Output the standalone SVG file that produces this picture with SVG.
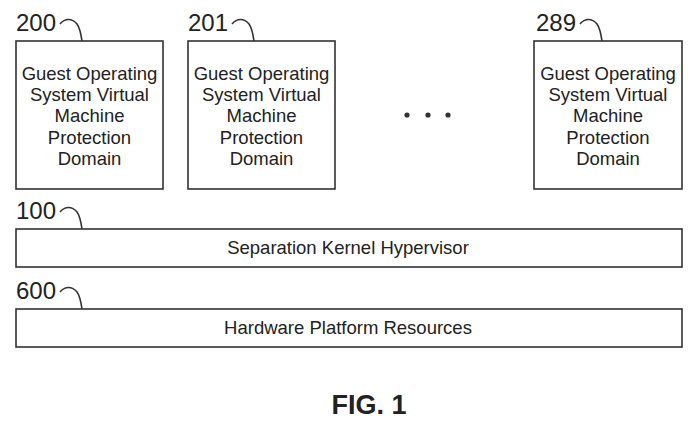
<svg xmlns="http://www.w3.org/2000/svg" width="691" height="423" viewBox="0 0 691 423">
<style>
.box{fill:#fff;stroke:#333;stroke-width:1.6}
.t{font-family:"Liberation Sans",Arial,sans-serif;font-size:18.5px;fill:#222;text-anchor:middle}
.lbl{font-family:"Liberation Sans",Arial,sans-serif;font-size:24px;fill:#222}
.lead{fill:none;stroke:#333;stroke-width:1.6}
.fig{font-family:"Liberation Sans",Arial,sans-serif;font-size:27px;font-weight:bold;fill:#222;text-anchor:middle}
</style>
<rect width="691" height="423" fill="#fff"/>
<g id="connectors">
<path class="lead" d="M60 24 C65 18 72 18 77 24 C80 28 81 34 82 41"/>
<path class="lead" d="M232 24 C237 18 244 18 249 24 C252 28 253 34 254 41"/>
<path class="lead" d="M580 24 C585 18 592 18 597 24 C600 28 601 34 602 41"/>
<path class="lead" d="M60 212 C65 206 72 206 77 212 C80 216 81 222 82 229"/>
<path class="lead" d="M60 292 C65 286 72 286 77 292 C80 296 81 302 82 309"/>
</g>
<g id="n200">
<text class="lbl" x="16" y="31">200</text>
<rect class="box" x="16" y="41" width="147" height="148"/>
<text class="t" x="89.5" y="80">Guest Operating</text>
<text class="t" x="89.5" y="101">System Virtual</text>
<text class="t" x="89.5" y="122">Machine</text>
<text class="t" x="89.5" y="144">Protection</text>
<text class="t" x="89.5" y="165">Domain</text>
</g>
<g id="n201">
<text class="lbl" x="188" y="31">201</text>
<rect class="box" x="188" y="41" width="147" height="148"/>
<text class="t" x="261.5" y="80">Guest Operating</text>
<text class="t" x="261.5" y="101">System Virtual</text>
<text class="t" x="261.5" y="122">Machine</text>
<text class="t" x="261.5" y="144">Protection</text>
<text class="t" x="261.5" y="165">Domain</text>
</g>
<g id="dots" fill="#333">
<circle cx="407" cy="115" r="2.6"/>
<circle cx="428" cy="115" r="2.6"/>
<circle cx="448" cy="115" r="2.6"/>
</g>
<g id="n289">
<text class="lbl" x="536" y="31">289</text>
<rect class="box" x="534" y="41" width="148" height="148"/>
<text class="t" x="608" y="80">Guest Operating</text>
<text class="t" x="608" y="101">System Virtual</text>
<text class="t" x="608" y="122">Machine</text>
<text class="t" x="608" y="144">Protection</text>
<text class="t" x="608" y="165">Domain</text>
</g>
<g id="n100">
<text class="lbl" x="16" y="219">100</text>
<rect class="box" x="16" y="229" width="666" height="38"/>
<text class="t" x="348" y="254">Separation Kernel Hypervisor</text>
</g>
<g id="n600">
<text class="lbl" x="16" y="299">600</text>
<rect class="box" x="16" y="309" width="666" height="38"/>
<text class="t" x="348" y="334">Hardware Platform Resources</text>
</g>
<text class="fig" x="369" y="414">FIG. 1</text>
</svg>
